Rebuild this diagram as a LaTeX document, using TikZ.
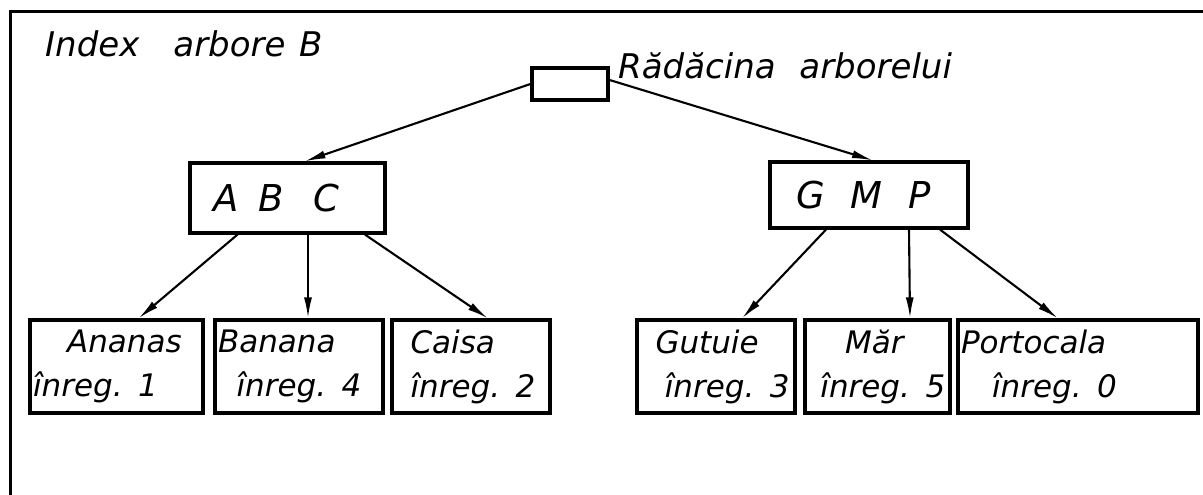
\documentclass[tikz,border=0pt]{standalone}
\usepackage{fontspec}
\setmainfont{DejaVu Sans}
\usetikzlibrary{arrows.meta}

\begin{document}
\begin{tikzpicture}[x=1pt, y=-1pt,
    caja/.style={draw, line width=3.2pt, inner sep=0pt, font=\fontsize{37}{40}\selectfont\itshape},
    hoja/.style={draw, line width=3.2pt, align=left, inner xsep=3pt, inner ysep=0pt,
      minimum height=93pt, font=\fontsize{31}{44}\selectfont\itshape},
    flecha/.style={line width=2.1pt, -{Latex[length=21pt, width=8pt]}},
    letra/.style={font=\fontsize{34}{38}\selectfont\itshape}]

    \useasboundingbox (0, 0) rectangle (1203, 495);

    % Marco
    \draw[line width=3pt] (10, 495) -- (10, 12) -- (1203, 12);

    % Textos
    \node[letra, anchor=base west, inner sep=0pt] (titulo) at (45, 57) {Index\hspace{1em}arbore\hspace{0.4em}B};
    \node[letra, anchor=base west, inner sep=0pt] (etiqueta) at (618, 78) {Rădăcina\hspace{0.7em}arborelui};

    % Nodos
    \node[caja, minimum width=76pt, minimum height=32pt] (raiz) at (570, 84) {};
    \node[caja, minimum width=195pt, minimum height=70pt] (abc) at (287.5, 198) {A\hspace{0.55em}B\hspace{0.8em}C\hspace*{0.6em}};
    \node[caja, minimum width=198pt, minimum height=66pt] (gmp) at (869, 195) {G\hspace{0.7em}M\hspace{0.7em}P\hspace*{0.3em}};

    \node[hoja, text width=167pt] (ananas) at (116.5, 366.5) {\hspace*{1.1em}Ananas\\înreg. 1};
    \node[hoja, text width=162pt] (banana) at (299, 366.5) {Banana\\\hspace*{0.6em}înreg. 4};
    \node[hoja, text width=152pt] (caisa) at (471, 366.5) {\hspace*{0.5em}Caisa\\\hspace*{0.5em}înreg. 2};
    \node[hoja, text width=152pt] (gutuie) at (716, 366.5) {\hspace*{0.5em}Gutuie\\\hspace*{0.8em}înreg. 3};
    \node[hoja, text width=139pt] (mar) at (877.5, 366.5) {\hspace*{1.2em}Măr\\\hspace*{0.4em}înreg. 5};
    \node[hoja, text width=234pt] (portocala) at (1078, 366.5) {Portocala\\\hspace*{1em}înreg. 0};

    % Flechas
    \draw[flecha] (raiz.west) -- ([xshift=17pt]abc.north);
    \draw[flecha] ([yshift=4pt]raiz.east) -- ([xshift=4pt]gmp.north);

    \draw[flecha] ([xshift=-50pt]abc.south) -- ([xshift=22pt]ananas.north);
    \draw[flecha] ([xshift=20.5pt]abc.south) -- ([xshift=9pt]banana.north);
    \draw[flecha] ([xshift=77.5pt]abc.south) -- ([xshift=17pt]caisa.north);

    \draw[flecha] ([xshift=-43pt]gmp.south) -- ([xshift=26pt]gutuie.north);
    \draw[flecha] ([xshift=40pt]gmp.south) -- ([xshift=32.5pt]mar.north);
    \draw[flecha] ([xshift=71pt]gmp.south) -- ([xshift=-20pt]portocala.north);

  \end{tikzpicture}
\end{document}
